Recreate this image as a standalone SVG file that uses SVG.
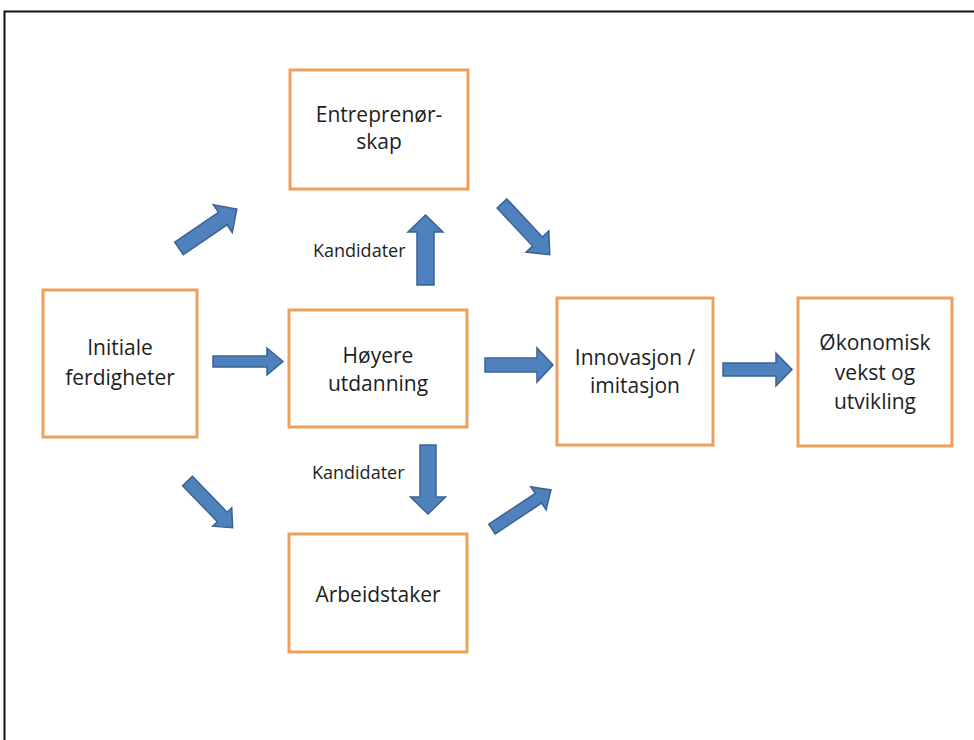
<svg xmlns="http://www.w3.org/2000/svg" width="974" height="740" viewBox="0 0 974 740">
<style>
.box{fill:#fff;stroke:#EE9F5B;stroke-width:3}
.t{font-family:"Open Sans","Noto Sans","Liberation Sans",sans-serif;font-size:21px;fill:#1e1e1e;text-anchor:middle}
.lbl{font-family:"Open Sans","Noto Sans","Liberation Sans",sans-serif;font-size:18px;fill:#1e1e1e}
.arr{fill:#4F81BD;stroke:#3A6294;stroke-width:1.5;stroke-linejoin:miter}
</style>
<rect x="0" y="0" width="974" height="740" fill="#fff"/>
<rect x="4.5" y="11.5" width="990" height="760" fill="none" stroke="#111" stroke-width="2"/>
<g id="n-initiale">
<rect class="box" x="43" y="290" width="154" height="147"/>
<text class="t" x="120" y="355">Initiale</text>
<text class="t" x="120" y="385">ferdigheter</text>
</g>
<g id="n-entreprenorskap">
<rect class="box" x="290" y="70" width="178" height="119"/>
<text class="t" x="379" y="122">Entreprenør-</text>
<text class="t" x="379" y="149">skap</text>
</g>
<g id="n-hoyere">
<rect class="box" x="289" y="310" width="178" height="117"/>
<text class="t" x="378" y="363">Høyere</text>
<text class="t" x="378" y="391">utdanning</text>
</g>
<g id="n-arbeidstaker">
<rect class="box" x="289" y="534" width="178" height="118"/>
<text class="t" x="378" y="602">Arbeidstaker</text>
</g>
<g id="n-innovasjon">
<rect class="box" x="557" y="298" width="156" height="147"/>
<text class="t" x="635" y="365">Innovasjon /</text>
<text class="t" x="635" y="393">imitasjon</text>
</g>
<g id="n-okonomisk">
<rect class="box" x="798" y="298" width="154" height="148"/>
<text class="t" x="875" y="350">Økonomisk</text>
<text class="t" x="875" y="380">vekst og</text>
<text class="t" x="875" y="409">utvikling</text>
</g>
<g id="connectors">
<path class="arr" transform="translate(213,361.5)" d="M0,-5.5 L54,-5.5 L54,-13.5 L70,0 L54,13.5 L54,5.5 L0,5.5 Z"/>
<path class="arr" transform="translate(485,365)" d="M0,-7 L52,-7 L52,-17 L68,0 L52,17 L52,7 L0,7 Z"/>
<path class="arr" transform="translate(723,369.5)" d="M0,-6.5 L53,-6.5 L53,-16.5 L69,0 L53,16.5 L53,6.5 L0,6.5 Z"/>
<path class="arr" transform="translate(425.5,285) rotate(-90)" d="M0,-8.5 L53,-8.5 L53,-17.5 L70,0 L53,17.5 L53,8.5 L0,8.5 Z"/>
<path class="arr" transform="translate(428,445) rotate(90)" d="M0,-8 L52,-8 L52,-17.5 L69,0 L52,17.5 L52,8 L0,8 Z"/>
<path class="arr" transform="translate(179,248.5) rotate(-34.3)" d="M0,-7.6 L53,-7.6 L53,-16.8 L70,0 L53,16.8 L53,7.6 L0,7.6 Z"/>
<path class="arr" transform="translate(502,203.5) rotate(47)" d="M0,-6.7 L52,-6.7 L52,-15.5 L70,0 L52,15.5 L52,6.7 L0,6.7 Z"/>
<path class="arr" transform="translate(187.5,481) rotate(46)" d="M0,-6.8 L50,-6.8 L50,-13.2 L65,0 L50,13.2 L50,6.8 L0,6.8 Z"/>
<path class="arr" transform="translate(492,529) rotate(-33.5)" d="M0,-5.8 L55.7,-5.8 L55.7,-13.9 L70.7,0 L55.7,13.9 L55.7,5.8 L0,5.8 Z"/>
<text class="lbl" x="313" y="257">Kandidater</text>
<text class="lbl" x="312" y="479">Kandidater</text>
</g>
</svg>
